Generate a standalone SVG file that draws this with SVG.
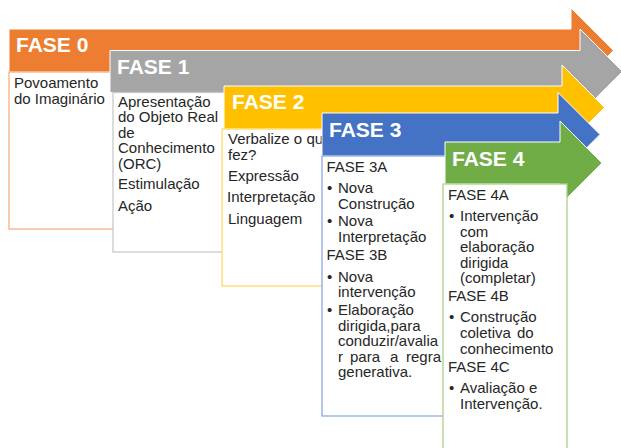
<svg xmlns="http://www.w3.org/2000/svg" width="621" height="448" viewBox="0 0 621 448">
  <style>
    .arrow { stroke: #ffffff; stroke-width: 1; stroke-linejoin: miter; }
    .box { fill: #ffffff; stroke-width: 1.3; }
    .title { font-family: "Liberation Sans", Arial, sans-serif; font-weight: bold; font-size: 21px; fill: #ffffff; }
    .txt { font-family: "Liberation Sans", Arial, sans-serif; font-size: 15px; fill: #262626; }
  </style>
  <rect width="621" height="448" fill="#ffffff"/>

  <!-- Phase 0 -->
  <g id="fase0">
    <path class="arrow" fill="#ED7D31" d="M9,29 H571 V8 L613.5,50.5 L571,93 V72 H9 Z"/>
    <rect class="box" x="9" y="72" width="190" height="157" stroke="#F4B183"/>
    <text class="title" x="16" y="52">FASE 0</text>
    <text class="txt" x="14" y="88">Povoamento</text>
    <text class="txt" x="14" y="103.5">do Imaginário</text>
  </g>

  <!-- Phase 1 -->
  <g id="fase1">
    <path class="arrow" fill="#A5A5A5" d="M110,50.5 H580 V29 L622.5,71.5 L580,114 V92.5 H110 Z"/>
    <rect class="box" x="113" y="92.5" width="190" height="159.5" stroke="#C9C9C9"/>
    <text class="title" x="117" y="74">FASE 1</text>
    <text class="txt" x="118" y="106.5">Apresentação</text>
    <text class="txt" x="118" y="122">do Objeto Real</text>
    <text class="txt" x="118" y="137.5">de</text>
    <text class="txt" x="118" y="153">Conhecimento</text>
    <text class="txt" x="118" y="168.5">(ORC)</text>
    <text class="txt" x="118" y="189">Estimulação</text>
    <text class="txt" x="118" y="210.5">Ação</text>
  </g>

  <!-- Phase 2 -->
  <g id="fase2">
    <path class="arrow" fill="#FFC000" d="M224,86 H562 V65 L604.5,107.5 L562,150 V129 H224 Z"/>
    <rect class="box" x="222" y="129" width="190" height="157" stroke="#FFD966"/>
    <text class="title" x="232" y="109">FASE 2</text>
    <text class="txt" x="228" y="144">Verbalize o que</text>
    <text class="txt" x="228" y="159.5">fez?</text>
    <text class="txt" x="228" y="180.5">Expressão</text>
    <text class="txt" x="227" y="202">Interpretação</text>
    <text class="txt" x="228" y="223.5">Linguagem</text>
  </g>

  <!-- Phase 3 -->
  <g id="fase3">
    <path class="arrow" fill="#4472C4" d="M322,113 H558 V92.5 L600,134.5 L558,176.5 V156 H322 Z"/>
    <rect class="box" x="322" y="156" width="200" height="260" stroke="#8FAADC"/>
    <text class="title" x="329" y="136.5">FASE 3</text>
    <text class="txt" x="326.5" y="172">FASE 3A</text>
    <text class="txt" x="327" y="193">•</text>
    <text class="txt" x="338" y="193">Nova</text>
    <text class="txt" x="338" y="209">Construção</text>
    <text class="txt" x="327" y="226">•</text>
    <text class="txt" x="338" y="226">Nova</text>
    <text class="txt" x="338" y="241.5">Interpretação</text>
    <text class="txt" x="326.5" y="260">FASE 3B</text>
    <text class="txt" x="327" y="281.5">•</text>
    <text class="txt" x="338" y="281.5">Nova</text>
    <text class="txt" x="338" y="297">intervenção</text>
    <text class="txt" x="327" y="315">•</text>
    <text class="txt" x="338" y="315">Elaboração</text>
    <text class="txt" x="338" y="330.5">dirigida,para</text>
    <text class="txt" x="338" y="346">conduzir/avalia</text>
    <text class="txt" y="361.5"><tspan x="338">r</tspan><tspan x="350">para</tspan><tspan x="390">a</tspan><tspan x="406">regra</tspan></text>
    <text class="txt" x="338" y="377">generativa.</text>
  </g>

  <!-- Phase 4 -->
  <g id="fase4">
    <path class="arrow" fill="#70AD47" d="M445,142 H560 V121 L602,163 L560,205 V184 H445 Z"/>
    <rect class="box" x="443" y="184" width="124" height="280" stroke="#A9D18E"/>
    <text class="title" x="452" y="166">FASE 4</text>
    <text class="txt" x="448" y="200">FASE 4A</text>
    <text class="txt" x="449" y="221">•</text>
    <text class="txt" x="460" y="221">Intervenção</text>
    <text class="txt" x="460" y="236.5">com</text>
    <text class="txt" x="460" y="252">elaboração</text>
    <text class="txt" x="460" y="267.5">dirigida</text>
    <text class="txt" x="460" y="283">(completar)</text>
    <text class="txt" x="448" y="301">FASE 4B</text>
    <text class="txt" x="449" y="322">•</text>
    <text class="txt" x="460" y="322">Construção</text>
    <text class="txt" y="338"><tspan x="460">coletiva</tspan><tspan x="517">do</tspan></text>
    <text class="txt" x="460" y="353.5">conhecimento</text>
    <text class="txt" x="448" y="372">FASE 4C</text>
    <text class="txt" x="449" y="393">•</text>
    <text class="txt" x="460" y="393">Avaliação e</text>
    <text class="txt" x="460" y="408.5">Intervenção.</text>
  </g>

  <!-- no separate connectors: the phase arrows carry the flow -->
  <g id="connectors"/>
</svg>
